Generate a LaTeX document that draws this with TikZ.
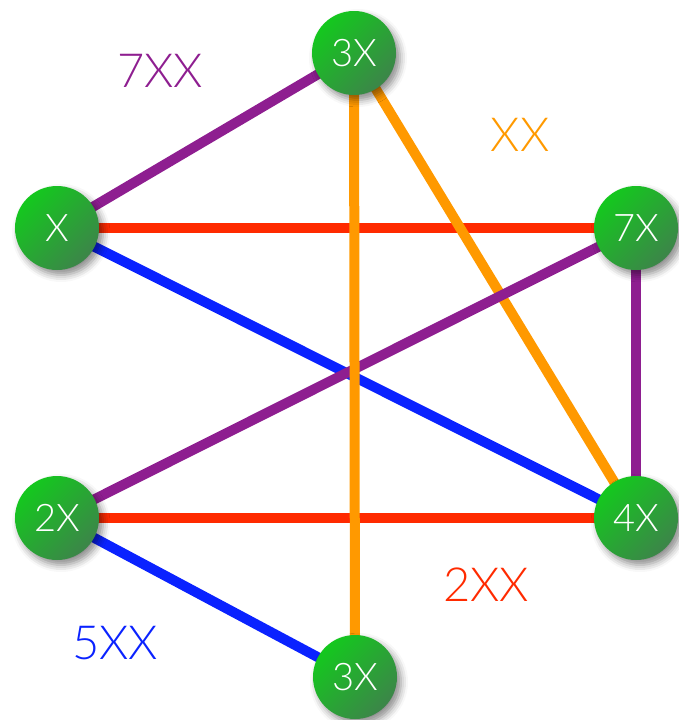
\documentclass[tikz,border=0pt]{standalone}
\usepackage{fontspec}
\setmainfont{Lato}[UprightFont=* Light]
\usepackage{xcolor}
\definecolor{nodeLight}{HTML}{14C81E}
\definecolor{nodeDark} {HTML}{3C8549}
\definecolor{edgePurple}{HTML}{8E1E90}
\definecolor{edgeRed}   {HTML}{FF2A00}
\definecolor{edgeBlue}  {HTML}{0A22FF}
\definecolor{edgeOrange}{HTML}{FF9900}
\usetikzlibrary{shadows.blur}
\tikzset{
    vertex/.style={circle, minimum size=84pt, inner sep=0pt,
                   shading=axis, top color=nodeLight, bottom color=nodeDark,
                   shading angle=45, text=white,
                   font=\fontsize{38}{40}\selectfont,
                   blur shadow={shadow xshift=4pt, shadow yshift=-5pt,
                                shadow blur radius=7pt, shadow opacity=45}},
    link/.style={line width=10pt},
    plink/.style={link, edgePurple},
    rlink/.style={link, edgeRed},
    blink/.style={link, edgeBlue},
    olink/.style={link, edgeOrange},
    weight/.style={font=\fontsize{47}{50}\selectfont},
}

\begin{document}
\begin{tikzpicture}[x=1pt, y=-1pt]
    \useasboundingbox (0,0) rectangle (678,720);
    % vertices
    \coordinate (x)  at (57,228);
    \coordinate (t)  at (354,53);
    \coordinate (s)  at (636,228);
    \coordinate (d)  at (57,518);
    \coordinate (f)  at (636,518);
    \coordinate (b)  at (355,677);
    % edges
    \draw[rlink] (x) -- (s);
    \draw[rlink] (d) -- (f);
    \draw[blink] (x) -- (f);
    \draw[blink] (d) -- (b);
    \draw[olink] (t) -- (f);
    \draw[plink] (x) -- (t);
    \draw[plink] (s) -- (d);
    \draw[plink] (s) -- (f);
    \draw[olink] (t) -- (b);
    % nodes on top
    \node[vertex] (nx) at (x) {X};
    \node[vertex] (nt) at (t) {3X};
    \node[vertex] (ns) at (s) {7X};
    \node[vertex] (nd) at (d) {2X};
    \node[vertex] (nf) at (f) {4X};
    \node[vertex] (nb) at (b) {3X};
    % weights
    \node[weight, text=edgePurple] (w1) at (160,71)  {7XX};
    \node[weight, text=edgeOrange] (w2) at (520,135) {XX};
    \node[weight, text=edgeRed]    (w3) at (486,585) {2XX};
    \node[weight, text=edgeBlue]   (w4) at (115,643) {5XX};
\end{tikzpicture}
\end{document}
